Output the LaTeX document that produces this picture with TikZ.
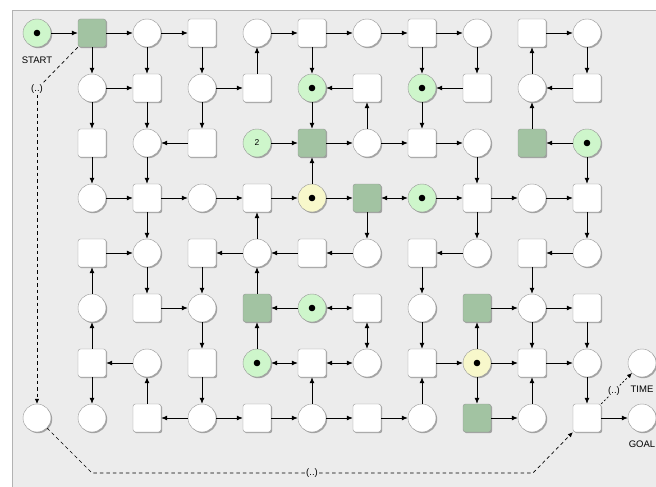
\documentclass[tikz,border=0pt]{standalone}
\usepackage{fontspec}
\setmainfont{Liberation Sans}
\usetikzlibrary{arrows.meta,shadows}
\definecolor{bgc}{RGB}{236,236,236}
\definecolor{bordc}{RGB}{178,178,178}
\definecolor{lgreen}{RGB}{206,246,203}
\definecolor{dgreen}{RGB}{162,195,162}
\definecolor{lyellow}{RGB}{248,248,203}
\definecolor{nbord}{RGB}{150,150,150}
\tikzset{
  basenode/.style={draw=nbord, line width=0.4pt, minimum size=28pt, inner sep=0pt,
    drop shadow={shadow xshift=1.2pt, shadow yshift=-1.2pt, opacity=0.3, fill=black}},
  pnode/.style={basenode, circle, fill=white},
  tnode/.style={basenode, rectangle, rounded corners=2.5pt, fill=white},
  dnode/.style={tnode, fill=dgreen},
  withtoken/.style={path picture={\fill[black] (path picture bounding box.center) circle (3.3pt);}},
  gnode/.style={pnode, fill=lgreen, withtoken},
  ynode/.style={pnode, fill=lyellow, withtoken},
  g2node/.style={pnode, fill=lgreen, font=\fontsize{8.5}{10}\selectfont},
  lbl/.style={font=\fontsize{9.5}{11}\selectfont, inner sep=1pt},
  arw/.style={-{Latex[length=6pt,width=5pt]}, line width=0.8pt},
  biarw/.style={{Latex[length=6pt,width=5pt]}-{Latex[length=6pt,width=5pt]}, line width=0.8pt},
  dsh/.style={dash pattern=on 3.5pt off 3pt, line width=0.7pt},
  dtt/.style={dash pattern=on 2pt off 2pt, line width=0.7pt},
  dtip/.style={-{Latex[length=5pt,width=4.5pt]}},
}
\begin{document}
\begin{tikzpicture}[x=1pt,y=-1pt]
\useasboundingbox (0,0) rectangle (656,487);
\clip (0,0) rectangle (656,487);
\fill[bgc] (12,10) rectangle (700,520);
\draw[bordc, line width=1pt] (700,10.5) -- (12.5,10.5) -- (12.5,520);
% white places
\foreach \myr/\myc in {0/2,0/4,0/6,0/8,0/10, 1/1,1/3,1/9, 2/2,2/6,2/8, 3/1,3/3,3/9,
  4/2,4/4,4/6,4/8,4/10, 5/1,5/3,5/7,5/9, 6/2,6/6,6/10,6/11, 7/0,7/1,7/3,7/5,7/7,7/9,7/11}
  \node[pnode] (r\myr c\myc) at ({37+55*\myc},{33+55*\myr}) {};
% white transitions
\foreach \myr/\myc in {0/3,0/5,0/7,0/9, 1/2,1/4,1/6,1/8,1/10, 2/1,2/3,2/7, 3/2,3/4,3/8,3/10,
  4/1,4/3,4/5,4/7,4/9, 5/2,5/6,5/10, 6/1,6/3,6/5,6/7,6/9, 7/2,7/4,7/6,7/10}
  \node[tnode] (r\myr c\myc) at ({37+55*\myc},{33+55*\myr}) {};
% dark green transitions
\foreach \myr/\myc in {0/1,2/5,2/9,3/6,5/4,5/8,7/8}
  \node[dnode] (r\myr c\myc) at ({37+55*\myc},{33+55*\myr}) {};
% green places with token
\foreach \myr/\myc in {0/0,1/5,1/7,2/10,3/7,5/5,6/4}
  \node[gnode] (r\myr c\myc) at ({37+55*\myc},{33+55*\myr}) {};
% yellow places with token
\foreach \myr/\myc in {3/5,6/8}
  \node[ynode] (r\myr c\myc) at ({37+55*\myc},{33+55*\myr}) {};
\node[g2node] (r2c4) at (257,143) {2};
% text labels
\node[lbl] (tstart) at (37,60) {START};
\node[lbl] (ttime) at (642,389) {TIME};
\node[lbl] (tgoal) at (642,444) {GOAL};
\node[lbl] (L1) at (37,89) {(..)};
\node[lbl] (L2) at (312,473) {(..)};
\node[lbl] (L3) at (614,391) {(..)};
\coordinate (b1) at (92,473);
\coordinate (b2) at (533,473);
% arrows
\foreach \a/\b in {r0c0/r0c1, r0c1/r0c2, r0c2/r0c3, r0c4/r0c5, r0c5/r0c6, r0c6/r0c7, r0c7/r0c8, r0c9/r0c10,
  r0c1/r1c1, r0c2/r1c2, r0c3/r1c3, r1c4/r0c4, r0c5/r1c5, r0c7/r1c7, r0c8/r1c8, r1c9/r0c9, r0c10/r1c10,
  r1c1/r1c2, r1c3/r1c4, r1c6/r1c5, r1c8/r1c7, r1c10/r1c9,
  r1c1/r2c1, r1c2/r2c2, r1c3/r2c3, r1c5/r2c5, r2c6/r1c6, r1c7/r2c7, r2c9/r1c9,
  r2c3/r2c2, r2c4/r2c5, r2c5/r2c6, r2c6/r2c7, r2c7/r2c8, r2c10/r2c9,
  r2c1/r3c1, r2c2/r3c2, r3c5/r2c5, r2c8/r3c8, r2c10/r3c10,
  r3c1/r3c2, r3c2/r3c3, r3c3/r3c4, r3c4/r3c5, r3c5/r3c6, r3c7/r3c8, r3c8/r3c9, r3c9/r3c10,
  r3c2/r4c2, r4c4/r3c4, r3c6/r4c6, r3c8/r4c8, r3c10/r4c10,
  r4c1/r4c2, r4c4/r4c3, r4c5/r4c4, r4c6/r4c5, r4c8/r4c7, r4c10/r4c9,
  r5c1/r4c1, r4c2/r5c2, r4c3/r5c3, r5c4/r4c4, r4c7/r5c7, r4c9/r5c9,
  r5c2/r5c3, r5c5/r5c4, r5c8/r5c9, r5c9/r5c10,
  r6c1/r5c1, r5c3/r6c3, r6c4/r5c4, r5c7/r6c7, r6c8/r5c8, r5c9/r6c9, r5c10/r6c10,
  r6c2/r6c1, r6c7/r6c8, r6c8/r6c9, r6c9/r6c10,
  r6c1/r7c1, r7c2/r6c2, r6c3/r7c3, r7c5/r6c5, r7c7/r6c7, r6c8/r7c8, r7c9/r6c9, r6c10/r7c10,
  r7c3/r7c2, r7c3/r7c4, r7c4/r7c5, r7c5/r7c6, r7c6/r7c7, r7c8/r7c9, r7c10/r7c11}
  \draw[arw] (\a) -- (\b);
\foreach \a/\b in {r3c6/r3c7, r5c5/r5c6, r5c6/r6c6, r6c4/r6c5, r6c5/r6c6}
  \draw[biarw] (\a) -- (\b);
% dashed connectors
\draw[dsh] (r0c1.south west) -- (L1);
\draw[dsh, dtip] (L1) -- (r7c0);
\draw[dsh] (r7c0) -- (b1) -- (L2);
\draw[dsh, dtip] (L2) -- (b2) -- (r7c10.south west);
\draw[dtt, dtip] (r7c10.north east) -- (L3) -- (r6c11);
\end{tikzpicture}
\end{document}
